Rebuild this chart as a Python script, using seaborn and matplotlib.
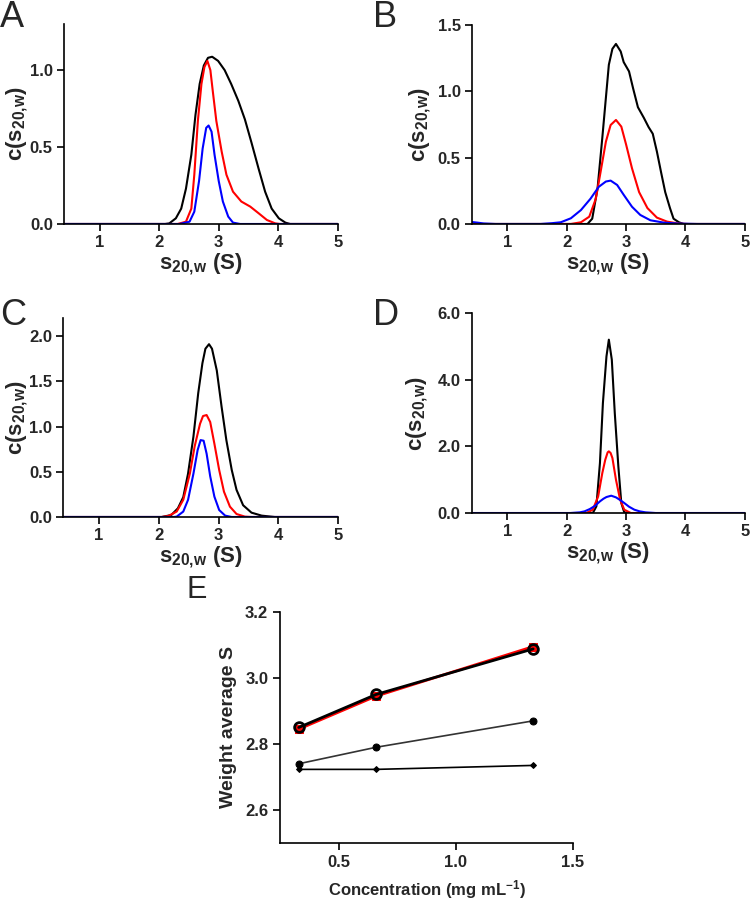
import pandas as pd
import seaborn as sns
from matplotlib import pyplot as plt

# c(s) distributions (S, value)
a_black_x = [0.4, 2.10, 2.17, 2.28, 2.37, 2.45, 2.54, 2.61, 2.68, 2.75, 2.82, 2.89, 2.99, 3.10, 3.21, 3.33, 3.44, 3.55, 3.67, 3.78, 3.89, 4.01, 4.12, 4.20, 5.0]
a_black_y = [0, 0, 0.004, 0.037, 0.10, 0.23, 0.45, 0.71, 0.91, 1.03, 1.08, 1.087, 1.06, 1.0, 0.91, 0.80, 0.68, 0.53, 0.36, 0.21, 0.10, 0.037, 0.009, 0, 0]
a_red_x = [0.4, 2.31, 2.45, 2.54, 2.59, 2.65, 2.71, 2.76, 2.81, 2.86, 2.90, 2.96, 3.05, 3.13, 3.24, 3.38, 3.53, 3.67, 3.81, 3.95, 4.03, 5.0]
a_red_y = [0, 0, 0.015, 0.10, 0.32, 0.67, 0.91, 1.02, 1.06, 1.0, 0.865, 0.67, 0.47, 0.32, 0.21, 0.146, 0.113, 0.07, 0.026, 0.004, 0, 0]
a_blue_x = [0.4, 2.34, 2.51, 2.59, 2.67, 2.73, 2.79, 2.83, 2.88, 2.93, 3.00, 3.07, 3.16, 3.24, 3.36, 5.0]
a_blue_y = [0, 0, 0.015, 0.08, 0.28, 0.49, 0.625, 0.64, 0.60, 0.45, 0.28, 0.146, 0.048, 0.009, 0, 0]

b_black_x = [0.4, 2.35, 2.43, 2.52, 2.60, 2.66, 2.71, 2.77, 2.83, 2.91, 2.96, 3.05, 3.12, 3.20, 3.30, 3.38, 3.45, 3.52, 3.59, 3.66, 3.74, 3.80, 3.89, 3.97, 5.0]
b_black_y = [0, 0, 0.04, 0.27, 0.65, 0.95, 1.20, 1.32, 1.357, 1.30, 1.22, 1.15, 1.02, 0.88, 0.80, 0.73, 0.68, 0.545, 0.39, 0.24, 0.12, 0.04, 0.013, 0, 0]
b_red_x = [0.4, 2.07, 2.24, 2.38, 2.49, 2.57, 2.66, 2.74, 2.83, 2.92, 3.00, 3.10, 3.22, 3.36, 3.52, 3.69, 3.89, 4.05, 5.0]
b_red_y = [0, 0, 0.013, 0.055, 0.19, 0.39, 0.62, 0.746, 0.784, 0.734, 0.60, 0.42, 0.24, 0.12, 0.048, 0.018, 0.003, 0, 0]
b_blue_x = [0.4, 0.5, 0.6, 0.8, 1.56, 1.75, 1.90, 2.07, 2.24, 2.40, 2.54, 2.66, 2.74, 2.85, 2.96, 3.10, 3.24, 3.41, 3.64, 3.89, 4.2, 5.0]
b_blue_y = [0.015, 0.01, 0.004, 0, 0, 0.006, 0.013, 0.043, 0.105, 0.19, 0.28, 0.32, 0.327, 0.294, 0.22, 0.13, 0.068, 0.028, 0.01, 0.003, 0, 0]

c_black_x = [0.4, 2.05, 2.21, 2.32, 2.41, 2.49, 2.58, 2.66, 2.73, 2.78, 2.84, 2.89, 2.97, 3.05, 3.13, 3.22, 3.30, 3.41, 3.55, 3.72, 3.94, 5.0]
c_black_y = [0, 0, 0.022, 0.096, 0.22, 0.48, 0.89, 1.37, 1.70, 1.86, 1.91, 1.86, 1.62, 1.22, 0.85, 0.52, 0.30, 0.13, 0.048, 0.015, 0, 0]
c_red_x = [0.4, 2.05, 2.16, 2.30, 2.41, 2.52, 2.60, 2.69, 2.74, 2.80, 2.86, 2.93, 3.01, 3.09, 3.19, 3.30, 3.44, 3.55, 5.0]
c_red_y = [0, 0, 0.011, 0.06, 0.19, 0.48, 0.78, 1.03, 1.116, 1.127, 1.05, 0.81, 0.52, 0.28, 0.114, 0.033, 0.004, 0, 0]
c_blue_x = [0.4, 2.25, 2.30, 2.41, 2.49, 2.58, 2.65, 2.70, 2.75, 2.80, 2.86, 2.93, 3.01, 3.11, 3.22, 5.0]
c_blue_y = [0, 0, 0.004, 0.06, 0.19, 0.48, 0.74, 0.85, 0.843, 0.70, 0.45, 0.225, 0.077, 0.015, 0, 0]

d_black_x = [0.4, 2.44, 2.50, 2.56, 2.61, 2.67, 2.71, 2.76, 2.81, 2.87, 2.92, 2.97, 3.03, 5.0]
d_black_y = [0, 0, 0.2, 1.5, 3.3, 4.7, 5.2, 4.6, 3.0, 1.4, 0.3, 0.02, 0, 0]
d_red_x = [0.4, 2.33, 2.44, 2.53, 2.60, 2.65, 2.69, 2.71, 2.74, 2.77, 2.83, 2.90, 2.97, 3.08, 5.0]
d_red_y = [0, 0, 0.1, 0.5, 1.2, 1.6, 1.82, 1.85, 1.8, 1.65, 1.0, 0.4, 0.1, 0, 0]
d_blue_x = [0.4, 2.06, 2.22, 2.30, 2.39, 2.48, 2.56, 2.62, 2.67, 2.75, 2.83, 2.90, 2.97, 3.05, 3.14, 3.23, 3.33, 3.50, 5.0]
d_blue_y = [0, 0, 0.02, 0.05, 0.12, 0.22, 0.35, 0.43, 0.48, 0.52, 0.47, 0.39, 0.30, 0.19, 0.10, 0.05, 0.02, 0, 0]

# panel E: weight average S vs concentration
conc = [0.33, 0.66, 1.33]
s_red = [2.845, 2.945, 3.095]
s_open = [2.85, 2.95, 3.088]
s_filled = [2.74, 2.79, 2.87]
s_diamond = [2.723, 2.723, 2.735]

sns.set_style("ticks")
plt.rcParams["font.family"] = ["Liberation Sans", "DejaVu Sans"]
plt.rcParams["font.weight"] = "bold"
plt.rcParams["mathtext.fontset"] = "custom"
plt.rcParams["mathtext.rm"] = "Liberation Sans:bold"
plt.rcParams["mathtext.bf"] = "Liberation Sans:bold"
plt.rcParams["mathtext.it"] = "Liberation Sans:bold"
plt.rcParams["lines.solid_joinstyle"] = "round"

def frame(xs, ys, name):
    return pd.DataFrame({"s": xs, "c": ys, "run": name})

panels = {
    "A": [(a_black_x, a_black_y), (a_red_x, a_red_y), (a_blue_x, a_blue_y)],
    "B": [(b_black_x, b_black_y), (b_red_x, b_red_y), (b_blue_x, b_blue_y)],
    "C": [(c_black_x, c_black_y), (c_red_x, c_red_y), (c_blue_x, c_blue_y)],
    "D": [(d_black_x, d_black_y), (d_red_x, d_red_y), (d_blue_x, d_blue_y)],
}
names = ["black", "red", "blue"]
ylims = {"A": (0, 1.3), "B": (0, 1.5), "C": (0, 2.2), "D": (0, 6.0)}
yticks = {"A": [0, 0.5, 1.0], "B": [0, 0.5, 1.0, 1.5], "C": [0, 0.5, 1.0, 1.5, 2.0], "D": [0, 2, 4, 6]}
pos = {"A": [0.0853, 0.7514, 0.365, 0.222], "B": [0.629, 0.7514, 0.364, 0.2209],
       "C": [0.084, 0.4262, 0.367, 0.2209], "D": [0.629, 0.4306, 0.364, 0.222]}
ylab_x = {"A": -0.124, "B": -0.143, "C": -0.12, "D": -0.154}
letter_pos = {"A": (0.0, 1.0), "B": (0.497, 1.0), "C": (0.0, 0.669), "D": (0.497, 0.669)}

fig = plt.figure(figsize=(7.5, 9.01), dpi=100)

for key, curves in panels.items():
    ax = fig.add_axes(pos[key])
    df = pd.concat([frame(x, y, n) for (x, y), n in zip(curves, names)])
    sns.lineplot(data=df, x="s", y="c", hue="run", palette={"black": "black", "red": "red", "blue": "blue"},
                 linewidth=1.5, ax=ax, legend=False, sort=False, estimator=None)
    ax.set_xlim(0.4, 5)
    ax.set_ylim(*ylims[key])
    ax.set_xticks([1, 2, 3, 4, 5])
    ax.set_yticks(yticks[key])
    ax.set_yticklabels([f"{t:.1f}" for t in yticks[key]])
    ax.set_xlabel(r"s$_{20{,}w}$ (S)", fontsize=16, fontweight="bold", labelpad=1)
    ax.set_ylabel(r"c(s$_{20{,}w}$)", fontsize=16, fontweight="bold")
    ax.yaxis.set_label_coords(ylab_x[key], 0.5)
    ax.tick_params(labelsize=12, width=1.2, length=5, color="black", pad=3)
    for lab in ax.get_xticklabels() + ax.get_yticklabels():
        lab.set_fontweight("bold")
    sns.despine(ax=ax)
    for sp in ["left", "bottom"]:
        ax.spines[sp].set_linewidth(1.2)
        ax.spines[sp].set_color("black")
    fig.text(*letter_pos[key], key, fontsize=26, fontweight="normal", va="top", ha="left")

# panel E
ax = fig.add_axes([0.3733, 0.0644, 0.3907, 0.2564])
sns.lineplot(x=conc, y=s_red, color="red", linewidth=2, marker="s", markersize=6,
             markeredgecolor="red", ax=ax)
sns.lineplot(x=conc, y=s_open, color="black", linewidth=2, marker="o", markersize=7,
             markerfacecolor="none", markeredgecolor="black", markeredgewidth=2, ax=ax)
sns.lineplot(x=conc, y=s_filled, color="#333333", linewidth=1.2, marker="o", markersize=5,
             markerfacecolor="black", markeredgecolor="black", ax=ax)
sns.lineplot(x=conc, y=s_diamond, color="black", linewidth=1.2, marker="D", markersize=3,
             markerfacecolor="black", markeredgecolor="black", ax=ax)
ax.set_xlim(0.25, 1.5)
ax.set_ylim(2.5, 3.2)
ax.set_xticks([0.5, 1.0, 1.5])
ax.set_yticks([2.6, 2.8, 3.0, 3.2])
ax.set_yticklabels(["2.6", "2.8", "3.0", "3.2"])
ax.set_xlabel(r"Concentration (mg mL$^{-1}$)", fontsize=12, fontweight="bold", labelpad=6)
ax.set_ylabel("Weight average S", fontsize=14, fontweight="bold", labelpad=6)
ax.tick_params(labelsize=12, width=1.2, length=5, color="black")
for lab in ax.get_xticklabels() + ax.get_yticklabels():
    lab.set_fontweight("bold")
sns.despine(ax=ax)
for sp in ["left", "bottom"]:
    ax.spines[sp].set_linewidth(1.2)
    ax.spines[sp].set_color("black")
fig.text(0.249, 0.362, "E", fontsize=22, fontweight="normal", va="top", ha="left")

fig.savefig("out.png", dpi=100)
